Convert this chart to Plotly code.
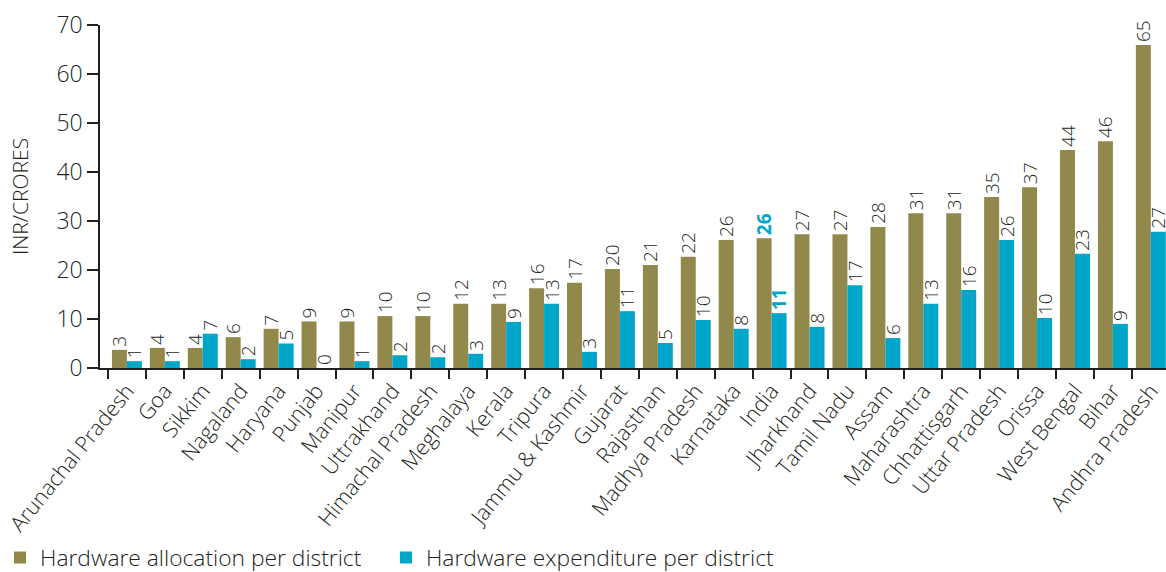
import plotly.graph_objects as go

states = ["Arunachal Pradesh", "Goa", "Sikkim", "Nagaland", "Haryana", "Punjab", "Manipur",
          "Uttrakhand", "Himachal Pradesh", "Meghalaya", "Kerala", "Tripura", "Jammu & Kashmir",
          "Gujarat", "Rajasthan", "Madhya Pradesh", "Karnataka", "India", "Jharkhand", "Tamil Nadu",
          "Assam", "Maharashtra", "Chhattisgarh", "Uttar Pradesh", "Orissa", "West Bengal", "Bihar",
          "Andhra Pradesh"]

allocation = [3.7, 4.1, 4.1, 6.3, 8.0, 9.5, 9.5, 10.6, 10.6, 13.1, 13.1, 16.3, 17.4, 20.2,
              21.0, 22.7, 26.1, 26.5, 27.3, 27.3, 28.8, 31.6, 31.6, 34.9, 36.9, 44.5, 46.3, 65.9]
expenditure = [1.4, 1.4, 7.0, 1.8, 5.0, 0.0, 1.4, 2.6, 2.2, 2.9, 9.4, 13.1, 3.3, 11.6,
               5.1, 9.8, 8.0, 11.2, 8.4, 16.9, 6.1, 13.1, 15.9, 26.1, 10.2, 23.3, 9.0, 27.8]

allocation_labels = [3, 4, 4, 6, 7, 9, 9, 10, 10, 12, 13, 16, 17, 20, 21, 22, 26, 26, 27, 27,
                     28, 31, 31, 35, 37, 44, 46, 65]
expenditure_labels = [1, 1, 7, 2, 5, 0, 1, 2, 2, 3, 9, 13, 3, 11, 5, 10, 8, 11, 8, 17, 6, 13,
                      16, 26, 10, 23, 9, 27]

OLIVE = "#91894C"
CYAN = "#00A6CA"
TEXT = "#231F20"
highlight = "India"
FONT = "Open Sans"
W = 350


def fmt(labels):
    return [f"<b>{v}</b>" if s == highlight else str(v) for s, v in zip(states, labels)]


def colors():
    return [CYAN if s == highlight else TEXT for s in states]


fig = go.Figure()
fig.add_trace(go.Bar(
    x=states, y=allocation, name="Hardware allocation per district",
    marker=dict(color=OLIVE, line=dict(width=0)),
    text=fmt(allocation_labels), textposition="outside", textangle=-90,
    textfont=dict(size=19, color=colors(), family=FONT, weight=W),
    constraintext="none", cliponaxis=False, legend="legend",
))
fig.add_trace(go.Bar(
    x=states, y=expenditure, name="Hardware expenditure per district",
    marker=dict(color=CYAN, line=dict(width=0)),
    text=fmt(expenditure_labels), textposition="outside", textangle=-90,
    textfont=dict(size=19, color=colors(), family=FONT, weight=W),
    constraintext="none", cliponaxis=False, legend="legend2",
))

legend_style = dict(orientation="h", xref="container", yref="container", y=0.025,
                    xanchor="left", yanchor="middle", bgcolor="rgba(0,0,0,0)",
                    font=dict(size=22.8, color=TEXT, family=FONT, weight=W))

fig.update_layout(
    width=1166, height=572,
    margin=dict(l=100, r=0, t=25, b=204, autoexpand=False),
    paper_bgcolor="white", plot_bgcolor="white",
    font=dict(family=FONT, color=TEXT, weight=W),
    barmode="group", bargap=0.21, bargroupgap=0,
    showlegend=True,
    legend=dict(x=0.0, **legend_style),
    legend2=dict(x=0.331, **legend_style),
)
fig.update_xaxes(
    type="category", range=[-0.71, 27.4],
    showline=True, linecolor=TEXT, linewidth=1.5,
    ticks="outside", tickson="boundaries", ticklen=9, tickcolor=TEXT, tickwidth=1.5,
    tickangle=-51, tickfont=dict(size=21.5, color=TEXT, family=FONT, weight=W),
    showgrid=False, zeroline=False,
)
fig.update_yaxes(
    range=[0, 70], dtick=10, tick0=0,
    showline=True, linecolor=TEXT, linewidth=1.5,
    ticks="outside", ticklen=11, tickcolor=TEXT, tickwidth=1.5,
    tickfont=dict(size=23, color=TEXT, family=FONT, weight=W),
    showgrid=False, zeroline=False,
    title=dict(text="INR/CRORES", font=dict(size=21, color=TEXT, family=FONT, weight=W),
               standoff=22),
)

fig.write_html("out.html")
